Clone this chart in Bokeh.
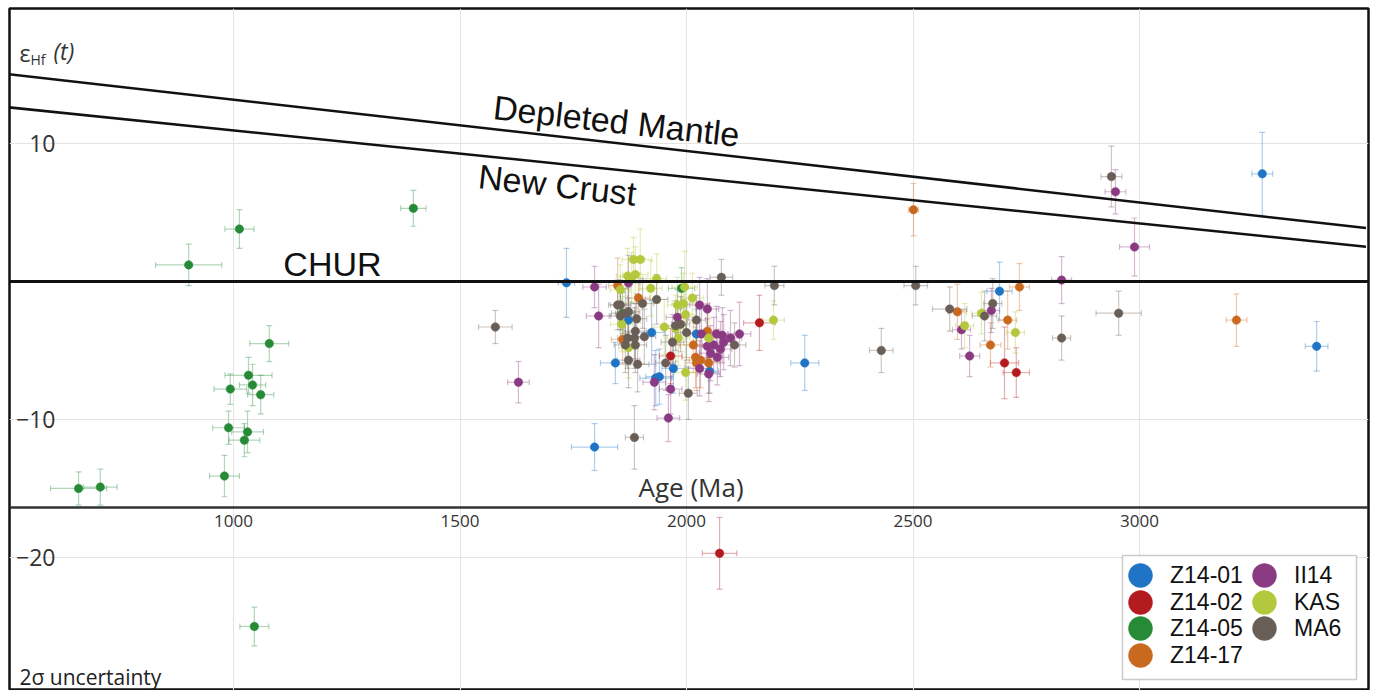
from bokeh.plotting import figure
from bokeh.models import (ColumnDataSource, Whisker, TeeHead, LinearAxis, FixedTicker, Label,
                          Legend, LegendItem, Span, Range1d, BoxAnnotation)
from bokeh.embed import file_html
from bokeh.resources import INLINE

# ---------------- data ----------------
series_names = ["Z14-01", "Z14-02", "Z14-05", "Z14-17", "II14", "KAS", "MA6"]
series_colors = ["#1f74c5", "#b31b1e", "#268a36", "#c9691f", "#8a3a82", "#b3c83c", "#6a5f57"]

z1401_age = [1735, 1797, 1843, 1872, 1923, 1932, 1940, 1971, 2022, 2051, 2261, 2691, 3271, 3391]
z1401_eps = [-0.1, -12.0, -5.9, -2.8, -3.7, -7.0, -6.9, -6.3, -3.8, -6.5, -5.9, -0.7, 7.8, -4.7]
z1401_age_err = [18, 51, 33, 20, 30, 35, 30, 25, 20, 20, 31, 28, 23, 25]
z1401_eps_err = [2.5, 1.7, 1.5, 1.6, 2.3, 2.0, 2.0, 1.8, 1.8, 1.6, 2.0, 2.1, 3.0, 1.8]

z1402_age = [1965, 2073, 2161, 2702, 2728]
z1402_eps = [-5.4, -19.7, -3.0, -5.9, -6.6]
z1402_age_err = [25, 38, 35, 31, 29]
z1402_eps_err = [2.0, 2.6, 2.0, 2.6, 1.8]

z1405_age = [658, 706, 901, 980, 989, 993, 1013, 1024, 1031, 1033, 1042, 1046, 1060, 1079, 1397, 1859, 1989]
z1405_eps = [-15.0, -14.9, 1.2, -14.1, -10.6, -7.8, 3.8, -11.5, -10.9, -6.8, -7.5, -25.0, -8.2, -4.5, 5.3, -2.3, -0.5]
z1405_age_err = [62, 37, 73, 33, 35, 36, 32, 34, 35, 52, 29, 32, 29, 43, 28, 25, 29]
z1405_eps_err = [1.2, 1.3, 1.5, 1.5, 1.2, 1.1, 1.4, 1.2, 1.5, 1.3, 1.5, 1.4, 1.4, 1.3, 1.3, 1.5, 1.5]

z1417_age = [1848, 1859, 1894, 2015, 2020, 2022, 2031, 2046, 2049, 2501, 2598, 2671, 2709, 2735, 3214]
z1417_eps = [-0.3, -4.2, -1.2, -4.6, -5.5, -5.9, -5.7, -3.6, -5.9, 5.2, -2.2, -4.6, -2.8, -0.4, -2.8]
z1417_age_err = [20, 25, 25, 30, 30, 25, 25, 25, 25, 11, 20, 23, 20, 22, 23]
z1417_eps_err = [2.0, 1.8, 1.8, 2.0, 2.2, 2.0, 2.0, 2.0, 2.2, 1.9, 2.0, 1.6, 2.1, 1.7, 1.9]

ii14_age = [1629, 1797, 1806, 1872, 1929, 1960, 1965, 1980, 2029, 2029, 2033, 2046, 2046, 2049, 2053,
            2060, 2066, 2068, 2075, 2079, 2082, 2097, 2117, 2607, 2625, 2673, 2828, 2947, 2989]
ii14_eps = [-7.3, -0.4, -2.5, -0.1, -7.3, -9.9, -7.8, -2.6, -1.7, -6.3, -3.8, -2.0, -4.7, -6.7, -5.2,
            -4.6, -3.8, -5.5, -4.9, -3.9, -4.4, -4.1, -3.8, -3.5, -5.4, -2.1, 0.1, 6.5, 2.5]
ii14_age_err = [24, 26, 27, 25, 25, 25, 25, 25, 22, 25, 25, 25, 25, 25, 25,
                25, 25, 25, 25, 25, 25, 25, 25, 20, 22, 18, 22, 23, 33]
ii14_eps_err = [1.5, 1.5, 2.3, 2.0, 2.0, 1.7, 1.8, 2.0, 2.0, 2.0, 2.0, 2.2, 2.0, 2.0, 2.0,
                2.0, 2.0, 2.0, 2.0, 2.0, 2.0, 2.0, 2.3, 1.4, 1.5, 1.6, 1.7, 1.6, 2.1]

kas_age = [1854, 1857, 1870, 1872, 1879, 1883, 1887, 1898, 1921, 1934, 1951, 1976, 1980, 1982, 1993,
           1996, 1998, 1998, 2013, 2049, 2192, 2614, 2651, 2726]
kas_eps = [-0.6, -3.1, 0.4, -4.8, 0.3, 1.6, 0.5, 1.6, -0.5, 0.2, -3.3, -3.4, -1.7, -4.1, -1.6,
           -0.4, -2.4, -6.6, -1.2, -4.1, -2.8, -3.2, -2.3, -3.7]
kas_age_err = [22, 25, 25, 22, 25, 25, 28, 25, 25, 22, 25, 25, 22, 25, 25, 28, 22, 25, 25, 25, 24, 20, 22, 20]
kas_eps_err = [1.8, 2.0, 2.0, 2.2, 1.8, 1.6, 2.0, 2.2, 2.0, 1.8, 2.0, 2.4, 2.0, 2.0, 2.2,
               2.6, 2.0, 2.0, 1.8, 2.2, 1.4, 1.6, 1.5, 1.5]

ma6_age = [1578, 1848, 1854, 1854, 1865, 1865, 1870, 1872, 1872, 1885, 1885, 1887, 1887, 1890, 1892,
           1903, 1907, 1934, 1954, 1969, 1976, 1987, 2000, 2004, 2022, 2077, 2106, 2194, 2430, 2506,
           2581, 2658, 2676, 2828, 2938, 2954]
ma6_eps = [-3.3, -1.7, -1.7, -2.5, -2.3, -4.6, -4.1, -2.2, -5.7, -4.1, -11.3, -3.6, -4.6, -2.7, -6.0,
           -1.6, -4.0, -1.3, -5.9, -4.4, -3.2, -3.1, -3.7, -8.1, -2.8, 0.3, -4.6, -0.3, -5.0, -0.3,
           -2.0, -2.5, -1.6, -4.1, 7.6, -2.3]
ma6_age_err = [37, 20, 22, 25, 22, 25, 22, 25, 25, 25, 20, 25, 25, 22, 25, 25, 25, 25, 22, 25,
               22, 20, 25, 20, 20, 25, 25, 21, 26, 26, 38, 27, 20, 20, 23, 50]
ma6_eps_err = [1.2, 1.8, 1.8, 2.0, 1.8, 2.0, 2.2, 1.8, 2.0, 2.2, 2.3, 2.0, 2.0, 1.8, 2.0, 1.8, 2.0, 1.8,
               2.0, 2.0, 1.8, 2.0, 2.0, 1.9, 1.8, 1.3, 1.6, 1.4, 1.6, 1.4, 1.6, 1.8, 1.8, 1.6, 2.2, 1.6]

# reference curves
dm_age = [500, 3500]
dm_eps = [15.03, 3.87]
nc_age = [500, 3500]
nc_eps = [12.63, 2.52]
chur_eps = 0

x_ticks = [1000, 1500, 2000, 2500, 3000]
y_ticks = [-20, -10, 10]

series_data = [
    (z1401_age, z1401_eps, z1401_age_err, z1401_eps_err),
    (z1402_age, z1402_eps, z1402_age_err, z1402_eps_err),
    (z1405_age, z1405_eps, z1405_age_err, z1405_eps_err),
    (z1417_age, z1417_eps, z1417_age_err, z1417_eps_err),
    (ii14_age, ii14_eps, ii14_age_err, ii14_eps_err),
    (kas_age, kas_eps, kas_age_err, kas_eps_err),
    (ma6_age, ma6_eps, ma6_age_err, ma6_eps_err),
]

# ---------------- figure ----------------
p = figure(width=1370, height=690, output_backend="svg", toolbar_location=None,
           x_range=Range1d(505.5, 3505.5), y_range=Range1d(-29.64, 19.78),
           x_axis_location=None, y_axis_location=None,
           min_border_left=9, min_border_right=2, min_border_top=8, min_border_bottom=0)
p.outline_line_color = "#111111"
p.outline_line_width = 2.5
p.background_fill_color = "white"

p.xgrid.ticker = FixedTicker(ticks=x_ticks)
p.ygrid.ticker = FixedTicker(ticks=y_ticks)
for g in (p.xgrid, p.ygrid):
    g.grid_line_color = "#e4e4e4"
    g.grid_line_width = 1

xaxis = LinearAxis(fixed_location=-16.4, ticker=FixedTicker(ticks=x_ticks))
xaxis.axis_line_color = "#333333"
xaxis.axis_line_width = 2.5
xaxis.major_tick_line_color = None
xaxis.minor_tick_line_color = None
xaxis.major_tick_out = 0
xaxis.major_tick_in = 0
xaxis.major_label_standoff = 7
xaxis.major_label_text_font = "Open Sans"
xaxis.major_label_text_font_size = "17px"
xaxis.major_label_text_color = "#333333"
p.add_layout(xaxis, "below")

yaxis = LinearAxis(fixed_location=607, ticker=FixedTicker(ticks=y_ticks))
yaxis.axis_line_color = None
yaxis.major_tick_line_color = None
yaxis.minor_tick_line_color = None
yaxis.major_tick_out = 0
yaxis.major_tick_in = 0
yaxis.major_label_standoff = 0
yaxis.major_label_text_font = "Open Sans"
yaxis.major_label_text_font_size = "23px"
yaxis.major_label_text_color = "#333333"
p.add_layout(yaxis, "left")

# error bars
for (age, eps, aerr, eerr), col in zip(series_data, series_colors):
    src = ColumnDataSource(dict(
        x=age, y=eps,
        xl=[a - e for a, e in zip(age, aerr)], xu=[a + e for a, e in zip(age, aerr)],
        yl=[v - e for v, e in zip(eps, eerr)], yu=[v + e for v, e in zip(eps, eerr)],
    ))
    for dim, base, lo, up in (("height", "x", "yl", "yu"), ("width", "y", "xl", "xu")):
        w = Whisker(source=src, base=base, lower=lo, upper=up, dimension=dim,
                    line_color=col, line_alpha=0.35, line_width=1.2, level="underlay",
                    lower_head=TeeHead(size=6, line_color=col, line_alpha=0.35, line_width=1.2),
                    upper_head=TeeHead(size=6, line_color=col, line_alpha=0.35, line_width=1.2))
        p.add_layout(w)

# reference lines
p.line(dm_age, dm_eps, line_color="#111111", line_width=2.5)
p.line(nc_age, nc_eps, line_color="#111111", line_width=2.5)
p.add_layout(Span(location=chur_eps, dimension="width", line_color="#111111", line_width=3))

# points
renderers = {}
for (age, eps, aerr, eerr), col, name in zip(series_data, series_colors, series_names):
    r = p.scatter(age, eps, size=8.5, fill_color=col, line_color=col, line_width=0.5)
    renderers[name] = r

# texts
big = dict(text_font="Liberation Sans", text_font_size="34px", text_color="#111111",
           text_baseline="middle", text_align="left")
p.add_layout(Label(x=1110, y=1.23, text="CHUR", **big))
p.add_layout(Label(x=1574, y=12.63, text="Depleted Mantle", angle=-0.1128, **big))
p.add_layout(Label(x=1541, y=7.64, text="New Crust", angle=-0.1128, **big))

p.add_layout(Label(x=2010, y=-16.4, y_offset=3, text="Age (Ma)", text_align="center",
                   text_baseline="bottom", text_font="Open Sans", text_font_size="26px",
                   text_color="#333333"))

p.add_layout(Label(x=10, y=638, x_units="screen", y_units="screen", text="ε",
                   text_font="Open Sans", text_font_size="23px", text_color="#333333",
                   text_baseline="middle"))
p.add_layout(Label(x=21, y=631, x_units="screen", y_units="screen", text="Hf",
                   text_font="Open Sans", text_font_size="14px", text_color="#333333",
                   text_baseline="middle"))
p.add_layout(Label(x=44, y=640, x_units="screen", y_units="screen", text="(t)",
                   text_font="Open Sans", text_font_size="23px", text_font_style="italic",
                   text_color="#333333", text_baseline="middle"))
p.add_layout(Label(x=10, y=14, x_units="screen", y_units="screen", text="2σ uncertainty",
                   text_font="Open Sans", text_font_size="21px", text_color="#222222",
                   text_baseline="middle"))

# legend box + one legend per entry (large swatches, tight rows)
p.add_layout(BoxAnnotation(left=1113, right=1347, top=135, bottom=11,
                           left_units="screen", right_units="screen",
                           top_units="screen", bottom_units="screen",
                           fill_color="white", fill_alpha=1.0,
                           line_color="#555555", line_width=1.5, level="annotation"))

leg_common = dict(orientation="vertical", glyph_width=60, glyph_height=60, spacing=0, padding=0,
                  label_standoff=0, label_text_font="Liberation Sans", label_text_font_size="23px",
                  label_text_color="#111111", margin=0, border_line_color=None,
                  background_fill_alpha=0.0)
col_x = [1101, 1225]
row_y = [85, 58, 32, 5]
for i, name in enumerate(series_names):
    c, rr = (0, i) if i < 4 else (1, i - 4)
    leg = Legend(items=[LegendItem(label=name, renderers=[renderers[name]])],
                 location=(col_x[c], row_y[rr]), **leg_common)
    p.add_layout(leg)

open("out.html", "w").write(file_html(p, INLINE))
